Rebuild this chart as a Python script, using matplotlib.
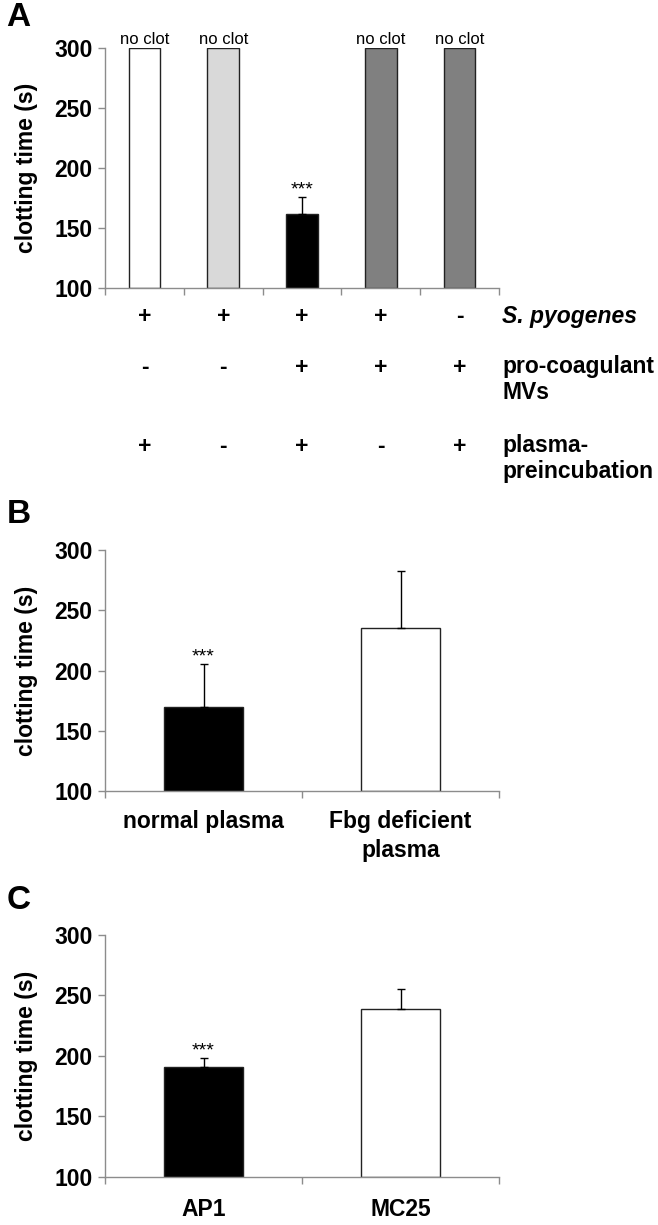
import matplotlib.pyplot as plt
import numpy as np

plt.rcParams['font.family'] = ['Liberation Sans', 'DejaVu Sans']

# panel A data
a_vals = [300, 300, 162, 300, 300]
a_err = [0, 0, 14, 0, 0]
a_colors = ['white', '#d9d9d9', 'black', '#808080', '#808080']
a_notes = ['no clot', 'no clot', '***', 'no clot', 'no clot']
a_rows = [['+', '+', '+', '+', '-'],
          ['-', '-', '+', '+', '+'],
          ['+', '-', '+', '-', '+']]
a_row_labels = ['S. pyogenes', 'pro-coagulant\nMVs', 'plasma-\npreincubation']

# panel B data
b_cats = ['normal plasma', 'Fbg deficient\nplasma']
b_vals = [170, 235]
b_err = [35, 48]
b_colors = ['black', 'white']

# panel C data
c_cats = ['AP1', 'MC25']
c_vals = [191, 239]
c_err = [7, 16]
c_colors = ['black', 'white']

yticks = [100, 150, 200, 250, 300]
axis_gray = '#8c8c8c'
fs = 16.5

fig = plt.figure(figsize=(6.58, 12.25), dpi=100)


def style_axes(ax, n):
    ax.set_ylim(100, 300)
    ax.set_xlim(-0.5, n - 0.5)
    ax.set_yticks(yticks)
    ax.set_yticklabels([str(t) for t in yticks], fontsize=fs, fontweight='bold')
    ax.set_xticks(np.arange(n + 1) - 0.5)
    ax.set_xticklabels([])
    for s in ['top', 'right']:
        ax.spines[s].set_visible(False)
    for s in ['left', 'bottom']:
        ax.spines[s].set_color(axis_gray)
        ax.spines[s].set_linewidth(1.0)
    ax.tick_params(axis='both', which='major', color=axis_gray, length=5, width=1, direction='out')
    ax.tick_params(axis='y', pad=4)
    ax.set_ylabel('clotting time (s)', fontsize=fs, fontweight='bold')
    ax.yaxis.set_label_coords(-0.17, 0.5)


def draw_bars(ax, vals, err, colors):
    x = np.arange(len(vals))
    ax.bar(x, np.array(vals) - 100, bottom=100, width=0.4, color=colors,
           edgecolor='#222222', linewidth=1.0, zorder=2)
    yerr = [np.zeros(len(err)), err]
    mask = np.array(err) > 0
    ax.errorbar(x[mask], np.array(vals)[mask], yerr=np.array(yerr)[:, mask], fmt='none',
                ecolor='black', elinewidth=1.0, capsize=3, capthick=1.0, zorder=3)
    return x


# ---- A ----
axA = fig.add_axes([0.1596, 0.7649, 0.5988, 0.1959])
style_axes(axA, len(a_vals))
xa = draw_bars(axA, a_vals, a_err, a_colors)
for i, note in enumerate(a_notes):
    top = a_vals[i] + a_err[i]
    if note == '***':
        axA.text(xa[i], top - 1, note, ha='center', va='bottom', fontsize=14, clip_on=False)
    else:
        axA.text(xa[i], top + 0.5, note, ha='center', va='bottom', fontsize=12, clip_on=False)
row_y = [-0.117, -0.333, -0.6625]
for r, row in enumerate(a_rows):
    for i, sym in enumerate(row):
        axA.text(xa[i], row_y[r], sym, transform=axA.get_xaxis_transform(),
                 ha='center', va='center', fontsize=fs, fontweight='bold')
label_y = [-0.117, -0.38, -0.71]
for r, lab in enumerate(a_row_labels):
    axA.text(1.008, label_y[r], lab, transform=axA.transAxes, ha='left', va='center',
             fontsize=fs, fontweight='bold', style='italic' if r == 0 else 'normal',
             linespacing=1.15)
fig.text(0.01, 0.986, 'A', fontsize=24, fontweight='bold', va='center')

# ---- B ----
axB = fig.add_axes([0.1596, 0.3543, 0.5988, 0.1967])
style_axes(axB, len(b_vals))
xb = draw_bars(axB, b_vals, b_err, b_colors)
axB.set_xticks(xb, minor=True)
axB.set_xticklabels(b_cats, minor=True, fontsize=fs, fontweight='bold', linespacing=1.3)
axB.tick_params(axis='x', which='minor', length=0, pad=14)
axB.text(xb[0], b_vals[0] + b_err[0] - 1, '***', ha='center', va='bottom', fontsize=14)
fig.text(0.01, 0.5796, 'B', fontsize=24, fontweight='bold', va='center')

# ---- C ----
axC = fig.add_axes([0.1596, 0.0394, 0.5988, 0.1973])
style_axes(axC, len(c_vals))
xc = draw_bars(axC, c_vals, c_err, c_colors)
axC.set_xticks(xc, minor=True)
axC.set_xticklabels(c_cats, minor=True, fontsize=fs, fontweight='bold')
axC.tick_params(axis='x', which='minor', length=0, pad=15)
axC.text(xc[0], c_vals[0] + c_err[0] - 1, '***', ha='center', va='bottom', fontsize=14)
fig.text(0.01, 0.2645, 'C', fontsize=24, fontweight='bold', va='center')

fig.savefig('out.png', dpi=100)
